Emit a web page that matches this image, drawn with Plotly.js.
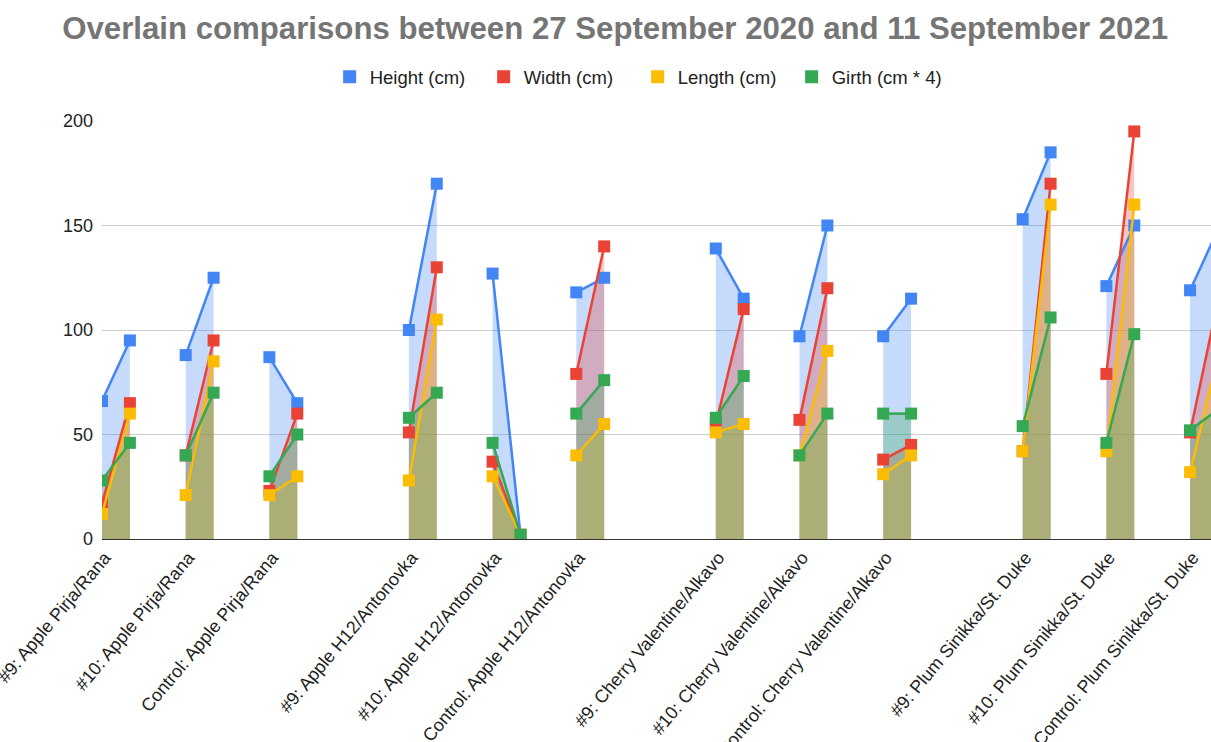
<!DOCTYPE html>
<html>
<head>
<meta charset="utf-8">
<script src="https://cdn.plot.ly/plotly-3.0.1.min.js"></script>
<style>
  html, body { margin: 0; padding: 0; background: #ffffff; overflow: hidden; }
  #chart { width: 1211px; height: 742px; }
</style>
</head>
<body>
<div id="chart"></div>
<script>
// Trees measured on 27 September 2020 (start) and 11 September 2021 (end)
const categories = [
  "#9: Apple Pirja/Rana", "#10: Apple Pirja/Rana", "Control: Apple Pirja/Rana",
  "#9: Apple H12/Antonovka", "#10: Apple H12/Antonovka", "Control: Apple H12/Antonovka",
  "#9: Cherry Valentine/Alkavo", "#10: Cherry Valentine/Alkavo", "Control: Cherry Valentine/Alkavo",
  "#9: Plum Sinikka/St. Duke", "#10: Plum Sinikka/St. Duke", "Control: Plum Sinikka/St. Duke"
];

const height2020 = [66, 88, 87, 100, 127, 118, 139, 97, 97, 153, 121, 119];
const height2021 = [95, 125, 65, 170, 2, 125, 115, 150, 115, 185, 150, 148];
const width2020  = [17, 40, 23, 51, 37, 79, 55, 57, 38, 42, 79, 51];
const width2021  = [65, 95, 60, 130, 2, 140, 110, 120, 45, 170, 195, 114];
const length2020 = [12, 21, 21, 28, 30, 40, 51, 40, 31, 42, 42, 32];
const length2021 = [60, 85, 30, 105, 2, 55, 55, 90, 40, 160, 160, 87];
const girth2020  = [28, 40, 30, 58, 46, 60, 58, 40, 60, 54, 46, 52];
const girth2021  = [46, 70, 50, 70, 2, 76, 78, 60, 60, 106, 98, 62];

const seriesNames = ["Height (cm)", "Width (cm)", "Length (cm)", "Girth (cm * 4)"];
const seriesColors = ["#4285F4", "#EA4335", "#FBBC04", "#34A853"];
const seriesFills = ["rgba(66,133,244,0.3)", "rgba(234,67,53,0.3)", "rgba(251,188,4,0.3)", "rgba(52,168,83,0.3)"];
const seriesStart = [height2020, width2020, length2020, girth2020];
const seriesEnd = [height2021, width2021, length2021, girth2021];

// Row layout of the sheet: each tree uses two rows plus a blank one,
// and every species group is followed by two more blank rows.
function rowOf(i) { return 3 * (i % 3) + 11 * Math.floor(i / 3); }

function pairs(start, end) {
  const xs = [], ys = [];
  categories.forEach((c, i) => {
    // the blank row keeps a real x with an empty value, so the line breaks there
    xs.push(rowOf(i), rowOf(i) + 1, rowOf(i) + 2);
    ys.push(start[i], end[i], null);
  });
  return { xs, ys };
}

const traces = [];
// shaded areas first (one patch per tree), so every line sits above all of them
seriesNames.forEach((name, k) => {
  categories.forEach((c, i) => {
    traces.push({
      type: "scatter", mode: "none",
      x: [rowOf(i), rowOf(i) + 1],
      y: [seriesStart[k][i], seriesEnd[k][i]],
      fill: "tozeroy", fillcolor: seriesFills[k],
      showlegend: false, hoverinfo: "skip"
    });
  });
});
seriesNames.forEach((name, k) => {
  const p = pairs(seriesStart[k], seriesEnd[k]);
  traces.push({
    type: "scatter", mode: "lines+markers", name: name, x: p.xs, y: p.ys,
    connectgaps: false, showlegend: false,
    line: { color: seriesColors[k], width: 2.5 },
    marker: { color: seriesColors[k], symbol: "square", size: 12 }
  });
});
// square legend keys
seriesNames.forEach((name, k) => {
  traces.push({
    type: "scatter", mode: "markers", name: name, x: [null], y: [null],
    marker: { color: seriesColors[k], symbol: "square", size: 13 },
    hoverinfo: "skip"
  });
});

const layout = {
  width: 1211, height: 742,
  autosize: false,
  margin: { l: 102, r: 0, t: 121, b: 203 },
  paper_bgcolor: "#ffffff", plot_bgcolor: "#ffffff",
  font: { family: "Liberation Sans, Arial, sans-serif", color: "#222222" },
  title: {
    text: "<b>Overlain comparisons between 27 September 2020 and 11 September 2021</b>",
    font: { size: 31.2, color: "#757575", family: "Liberation Sans, Arial, sans-serif" },
    xref: "container", x: 0.508, xanchor: "center",
    yref: "container", y: 1 - 28 / 742, yanchor: "middle"
  },
  showlegend: true,
  legend: {
    orientation: "h", x: 0.483, xanchor: "center", y: 1.105, yanchor: "middle",
    entrywidth: 109, entrywidthmode: "pixels",
    font: { size: 18.5, color: "#222222" }, bgcolor: "rgba(0,0,0,0)"
  },
  xaxis: {
    range: [0, 39.75],
    tickmode: "array",
    tickvals: categories.map((c, i) => rowOf(i) + 0.1),
    ticktext: categories,
    tickangle: -50,
    ticklabeloverflow: "allow",
    ticks: "", showgrid: false, zeroline: false,
    showline: true, linecolor: "#333333", linewidth: 1,
    tickfont: { size: 18, color: "#222222" },
    fixedrange: true
  },
  yaxis: {
    range: [0, 200],
    tickvals: [0, 50, 100, 150, 200],
    showgrid: true, gridcolor: "#cccccc", gridwidth: 1,
    zeroline: false, showline: false, ticks: "",
    tickfont: { size: 18, color: "#222222" },
    ticklabelstandoff: 8,
    fixedrange: true
  }
};

Plotly.newPlot("chart", traces, layout, { displayModeBar: false, staticPlot: true });
</script>
</body>
</html>
